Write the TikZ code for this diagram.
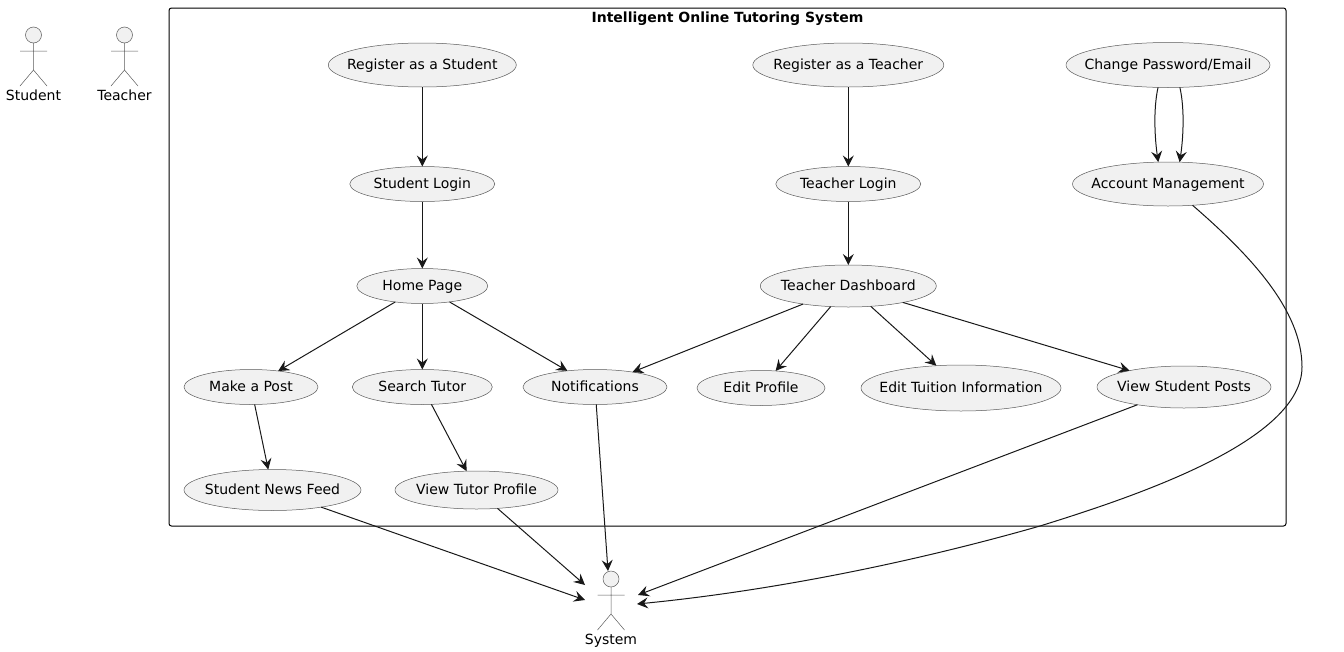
\documentclass[tikz,border=0pt]{standalone}
\usepackage{fontspec}
\setmainfont{DejaVu Sans}
\usetikzlibrary{shapes.geometric,arrows.meta}
\definecolor{ucfill}{HTML}{F1F1F1}
\definecolor{ucline}{HTML}{181818}
\definecolor{thinline}{HTML}{5A5A5A}
\tikzset{
  uc/.style={ellipse,draw=thinline,fill=ucfill,line width=.5pt,inner sep=0pt,outer sep=0pt},
  uctext/.style={inner sep=0pt,yshift=-1.2pt,text height=10pt,text depth=3pt,font=\fontsize{14}{16}\selectfont},
  link/.style={draw=ucline,line width=1pt,-{Stealth[length=11pt,width=11pt,inset=4pt]}},
  actorline/.style={draw=thinline,line width=.5pt},
  actorlabel/.style={inner sep=0pt,text height=10pt,text depth=3pt,font=\fontsize{14}{16}\selectfont},
  sysbox/.style={draw=black,line width=1pt,rounded corners=2.5pt},
}
\newcommand{\stick}[2]{% x, head y
  \draw[actorline,fill=ucfill] (#1,#2) circle[radius=8];
  \draw[actorline] (#1,#2+8) -- (#1,#2+35) (#1-13.5,#2+16) -- (#1+13.5,#2+16)
     (#1-13.5,#2+51) -- (#1,#2+35) -- (#1+13.5,#2+51);
}
\begin{document}
\begin{tikzpicture}[x=1pt,y=-1pt]
\useasboundingbox (0,0) rectangle (1344,651);
\draw[sysbox] (169,8) rectangle (1286,526);
\node[inner sep=0pt,text height=10pt,text depth=3pt,font=\fontsize{14}{16}\selectfont\bfseries] (title) at (727.5,18.5) {Intelligent Online Tutoring System};
% actors
\stick{33.5}{35}
\node[actorlabel] (student) at (33.5,96.5) {Student};
\stick{124.5}{35}
\node[actorlabel] (teacher) at (124.5,96.5) {Teacher};
\stick{611}{579}
\node[actorlabel] (system) at (611,641) {System};
\coordinate (s1) at (585,600);
\coordinate (s2) at (585,585);
\coordinate (s3) at (608,571);
\coordinate (s4) at (638,595);
\coordinate (s5) at (637,604);
% use cases
\node[uc,minimum width=188pt,minimum height=44pt,label={[uctext]center:Register as a Student}] (regs) at (422.3,65) {};
\node[uc,minimum width=145pt,minimum height=35pt,label={[uctext]center:Student Login}] (slog) at (422.3,184) {};
\node[uc,minimum width=131pt,minimum height=35pt,label={[uctext]center:Home Page}] (home) at (422.3,286) {};
\node[uc,minimum width=134pt,minimum height=35pt,label={[uctext]center:Make a Post}] (post) at (251,387) {};
\node[uc,minimum width=140pt,minimum height=35pt,label={[uctext]center:Search Tutor}] (srch) at (422.3,387) {};
\node[uc,minimum width=144pt,minimum height=35pt,label={[uctext]center:Notifications}] (noti) at (595,387) {};
\node[uc,minimum width=177pt,minimum height=41pt,label={[uctext]center:Student News Feed}] (feed) at (272.5,490) {};
\node[uc,minimum width=163pt,minimum height=38pt,label={[uctext]center:View Tutor Profile}] (prof) at (476.5,490) {};
\node[uc,minimum width=191pt,minimum height=44pt,label={[uctext]center:Register as a Teacher}] (regt) at (848.3,65) {};
\node[uc,minimum width=145pt,minimum height=35pt,label={[uctext]center:Teacher Login}] (tlog) at (848.3,184) {};
\node[uc,minimum width=176pt,minimum height=42pt,label={[uctext]center:Teacher Dashboard}] (dash) at (848.3,286) {};
\node[uc,minimum width=128pt,minimum height=35pt,label={[uctext]center:Edit Profile}] (edit) at (761,388) {};
\node[uc,minimum width=200pt,minimum height=46pt,label={[uctext]center:Edit Tuition Information}] (tuit) at (961,388) {};
\node[uc,minimum width=174pt,minimum height=42pt,label={[uctext]center:View Student Posts}] (view) at (1184,387) {};
\node[uc,minimum width=204pt,minimum height=45pt,label={[uctext]center:Change Password/Email}] (cpwd) at (1168,65) {};
\node[uc,minimum width=191pt,minimum height=44pt,label={[uctext]center:Account Management}] (acct) at (1168,184) {};
% links
\draw[link] (regs) -- (slog);
\draw[link] (slog) -- (home);
\draw[link] (home) -- (post);
\draw[link] (home) -- (srch);
\draw[link] (home) -- (noti);
\draw[link] (post) -- (feed);
\draw[link] (srch) -- (prof);
\draw[link] (regt) -- (tlog);
\draw[link] (tlog) -- (dash);
\draw[link] (dash) -- (noti);
\draw[link] (dash) -- (edit);
\draw[link] (dash) -- (tuit);
\draw[link] (dash) -- (view);
\draw[link] (cpwd.-114) .. controls (1153,110) and (1155,140) .. (acct.114);
\draw[link] (cpwd.-62) .. controls (1185,110) and (1183,140) .. (acct.62);
\draw[link] (feed) -- (s1);
\draw[link] (prof) -- (s2);
\draw[link] (noti) -- (s3);
\draw[link] (view) -- (s4);
\draw[link] (acct) .. controls (1250,255) and (1302,310) .. (1302,367)
   .. controls (1302,440) and (1140,495) .. (1040,526)
   .. controls (900,566) and (760,592) .. (s5);
\end{tikzpicture}
\end{document}
